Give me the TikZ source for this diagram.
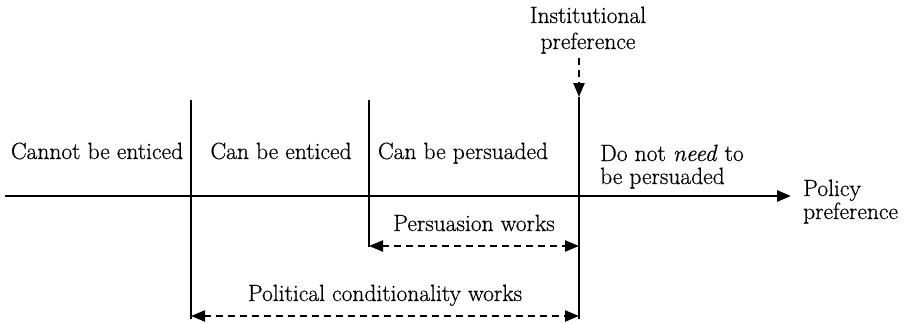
\documentclass[tikz,border=0pt]{standalone}
\usepackage{fontspec}
\setmainfont[FakeBold=0.6]{Latin Modern Roman}
\usetikzlibrary{arrows.meta}
\tikzset{
  lbl/.style={inner sep=0pt, font=\rmfamily\fontsize{23.5}{26}\selectfont},
  solidline/.style={line width=2.8pt},
  dasharrow/.style={line width=2.2pt, dash pattern=on 7pt off 5pt},
  >={Triangle[length=14pt,width=11pt]}
}
\begin{document}
\begin{tikzpicture}[x=1pt,y=-1pt]
\useasboundingbox (0,0) rectangle (910,322);
% coordinates
\coordinate (ax0) at (5,196);
\coordinate (ax1) at (791,196);
\coordinate (v1t) at (191,100);
\coordinate (v1b) at (191,319);
\coordinate (v2t) at (369,100);
\coordinate (v2b) at (369,247);
\coordinate (v3t) at (579,97);
\coordinate (v3b) at (579,319);
\coordinate (p1) at (369,246);
\coordinate (p2) at (579,246);
\coordinate (q1) at (191,316);
\coordinate (q2) at (579,316);
\coordinate (it) at (579,58);
% lines
\draw[solidline, ->] (ax0) -- (ax1);
\draw[solidline] (v1t) -- (v1b);
\draw[solidline] (v2t) -- (v2b);
\draw[solidline] (v3t) -- (v3b);
\draw[dasharrow, <->] (p1) -- (p2);
\draw[dasharrow, <->] (q1) -- (q2);
\draw[dasharrow, ->] (it) -- (v3t);
% labels
\node[lbl, anchor=base] (inst) at (588,23) {Institutional};
\node[lbl, anchor=base] (pref) at (588,49) {preference};
\node[lbl, anchor=base] (c1) at (97,159) {Cannot be enticed};
\node[lbl, anchor=base] (c2) at (281,159) {Can be enticed};
\node[lbl, anchor=base] (c3) at (463,159) {Can be persuaded};
\node[lbl, anchor=base west] (c4a) at (600,161) {Do not \emph{need} to};
\node[lbl, anchor=base west] (c4b) at (600,184) {be persuaded};
\node[lbl, anchor=base west] (pp1) at (803,196) {Policy};
\node[lbl, anchor=base west] (pp2) at (803,219) {preference};
\node[lbl, anchor=base] (pw) at (474,231) {Persuasion works};
\node[lbl, anchor=base] (pcw) at (385,301) {Political conditionality works};
\end{tikzpicture}
\end{document}
